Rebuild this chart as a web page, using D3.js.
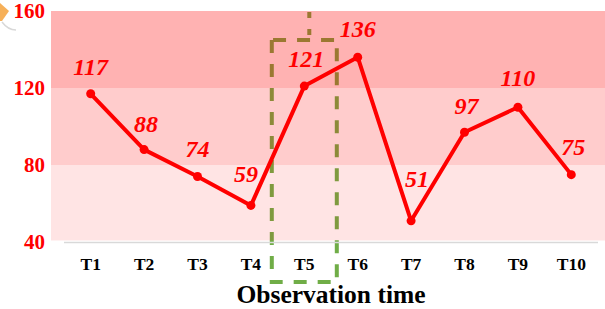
<!DOCTYPE html>
<html>
<head>
<meta charset="utf-8">
<script src="https://cdn.jsdelivr.net/npm/d3@7"></script>
<style>
  html, body { margin: 0; padding: 0; background: #ffffff; }
  svg { display: block; }
  svg text { font-family: "Liberation Serif", "Times New Roman", Times, serif; }
</style>
</head>
<body>
<div id="chart"></div>
<script>
// ---- data ----
const categories = ["T1", "T2", "T3", "T4", "T5", "T6", "T7", "T8", "T9", "T10"];
const values = [117, 88, 74, 59, 121, 136, 51, 97, 110, 75];
const yTicks = [40, 80, 120, 160];
const bandRanges = [[120, 160], [80, 120], [40, 80]];
const highlighted = "T5";
const xTitle = "Observation time";

// ---- layout ----
const W = 605, H = 309;
const svg = d3.select("#chart").append("svg").attr("width", W).attr("height", H);

const x = d3.scaleBand().domain(categories).range([64, 598]).padding(0);
const cx = c => x(c) + x.bandwidth() / 2;
const y = d3.scaleLinear().domain([40, 160]).range([242, 11]);

// small decoration at top-left corner
svg.append("path")
  .attr("d", "M0,3 L9,11 L2,21 L0,21 Z")
  .attr("fill", "#f4a23c").attr("opacity", 0.85);
svg.append("path")
  .attr("d", "M2,22 Q8,30 16,30")
  .attr("fill", "none").attr("stroke", "#d8d8d8").attr("stroke-width", 1.5);

// highlight box (drawn under the translucent bands)
const hx = cx(highlighted);
const green = "#70ad47";
const box = svg.append("g")
  .attr("fill", "none").attr("stroke", green).attr("stroke-width", 4)
  .attr("stroke-dasharray", "13,11");
box.append("path")
  .attr("d", `M${hx - 32.5},${y(145)} L${hx - 32.5},282 L${hx + 32.5},282 L${hx + 32.5},${y(145)} Z`);
box.append("line")
  .attr("x1", hx + 5).attr("x2", hx + 5)
  .attr("y1", y(160) + 1).attr("y2", y(145))
  .attr("stroke-dasharray", "6,11");

// translucent red bands
const bandOpacity = [0.3, 0.2, 0.105];
svg.append("g").selectAll("rect")
  .data(bandRanges)
  .join("rect")
  .attr("x", 51)
  .attr("width", W - 51)
  .attr("y", d => y(d[1]))
  .attr("height", d => y(d[0]) - y(d[1]) - (d[0] === 40 ? 1.5 : 0))
  .attr("fill", "#ff0000")
  .attr("fill-opacity", (d, i) => bandOpacity[i]);

// x axis baseline
svg.append("line")
  .attr("x1", 64).attr("x2", 598)
  .attr("y1", 242.5).attr("y2", 242.5)
  .attr("stroke", "#d9d9d9").attr("stroke-width", 1.5);

// y tick labels
svg.append("g").selectAll("text")
  .data(yTicks)
  .join("text")
  .attr("x", 45)
  .attr("y", d => y(d))
  .attr("dy", "0.35em")
  .attr("text-anchor", "end")
  .attr("font-weight", "bold")
  .attr("font-size", 21)
  .attr("fill", "#ff0000")
  .text(d => d);

// x tick labels
svg.append("g").selectAll("text")
  .data(categories)
  .join("text")
  .attr("x", d => cx(d))
  .attr("y", 270)
  .attr("text-anchor", "middle")
  .attr("font-weight", "bold")
  .attr("font-size", 17.5)
  .attr("fill", "#000000")
  .text(d => d);

// x title
svg.append("text")
  .attr("x", 331)
  .attr("y", 303)
  .attr("text-anchor", "middle")
  .attr("font-weight", "bold")
  .attr("font-size", 25.5)
  .attr("fill", "#000000")
  .text(xTitle);

// line + markers
const pts = categories.map((c, i) => ({ c, v: values[i] }));
svg.append("path")
  .datum(pts)
  .attr("fill", "none")
  .attr("stroke", "#ff0000")
  .attr("stroke-width", 4)
  .attr("stroke-linejoin", "round")
  .attr("d", d3.line().x(d => cx(d.c)).y(d => y(d.v)));

svg.append("g").selectAll("circle")
  .data(pts)
  .join("circle")
  .attr("cx", d => cx(d.c))
  .attr("cy", d => y(d.v))
  .attr("r", 4.5)
  .attr("fill", "#ff0000");

// value labels
const nudge = { T2: [2, -18], T4: [-5, -23], T5: [2, -19], T7: [6, -34], T8: [2, -18], T10: [2, -20], T1: [0, -19], T9: [0, -21] };
svg.append("g").selectAll("text")
  .data(pts)
  .join("text")
  .attr("x", d => cx(d.c) + (nudge[d.c] ? nudge[d.c][0] : 0))
  .attr("y", d => y(d.v) + (nudge[d.c] ? nudge[d.c][1] : -20))
  .attr("text-anchor", "middle")
  .attr("font-weight", "bold")
  .attr("font-style", "italic")
  .attr("font-size", 24)
  .attr("fill", "#ff0000")
  .text(d => d.v);
</script>
</body>
</html>
